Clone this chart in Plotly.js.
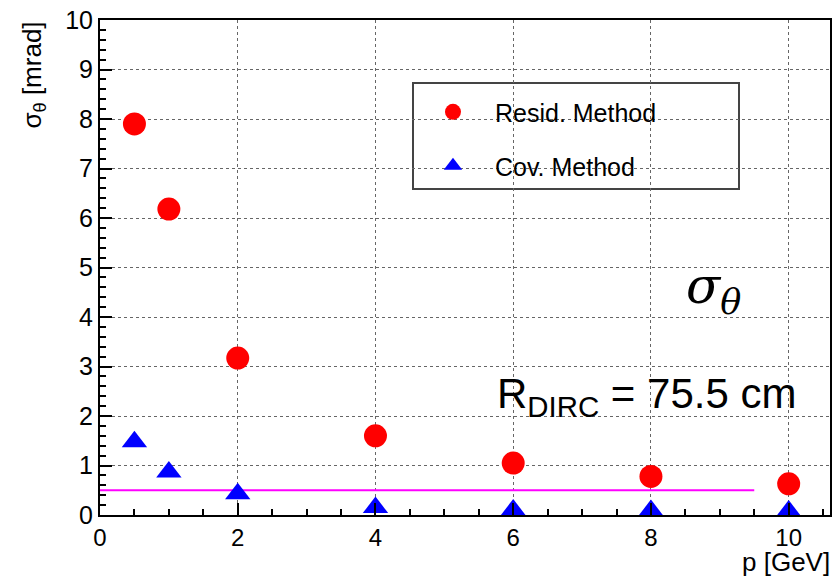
<!DOCTYPE html>
<html>
<head>
<meta charset="utf-8">
<script src="https://cdn.plot.ly/plotly-3.0.1.min.js"></script>
<style>html,body{margin:0;padding:0;background:#fff;}#chart{width:832px;height:576px;}</style>
</head>
<body>
<div id="chart"></div>
<script>
// Data
const momentum = [0.5, 1, 2, 4, 6, 8, 10];
const residMethod = [7.9, 6.18, 3.17, 1.6, 1.05, 0.78, 0.63];
const covMethod = [1.48, 0.87, 0.43, 0.15, 0.1, 0.09, 0.08];
const refLineX = [0, 9.5];
const refLineY = [0.5, 0.5];
const seriesNames = ['Resid. Method', 'Cov. Method'];

const FONT = 'Liberation Sans, Arial, Helvetica, sans-serif';

const traces = [
  {
    x: refLineX, y: refLineY, type: 'scatter', mode: 'lines',
    line: {color: '#ff00ff', width: 2}, showlegend: false, hoverinfo: 'skip'
  },
  {
    x: momentum, y: residMethod, type: 'scatter', mode: 'markers', name: seriesNames[0],
    marker: {symbol: 'circle', size: 23, color: '#ff0000'}, legend: 'legend'
  },
  {
    x: momentum, y: covMethod, type: 'scatter', mode: 'markers', name: seriesNames[1],
    marker: {symbol: 'triangle-up', size: 22, color: '#0000ff'}, legend: 'legend2'
  }
];

const axisCommon = {
  showline: true, mirror: true, linecolor: '#000', linewidth: 2,
  ticks: 'inside', ticklen: 12, tickwidth: 2, tickcolor: '#000',
  showgrid: true, gridcolor: '#666', griddash: 'dot', gridwidth: 1,
  zeroline: false, layer: 'above traces',
  tickfont: {family: FONT, size: 25, color: '#000'}
};

const layout = {
  width: 832, height: 576,
  margin: {l: 100, r: 2, t: 20, b: 61},
  paper_bgcolor: '#fff', plot_bgcolor: '#fff',
  font: {family: FONT, color: '#000'},
  xaxis: Object.assign({}, axisCommon, {
    range: [0, 10.6], tick0: 0, dtick: 2,
    tickfont: {family: FONT, size: 24, color: '#000'},
    minor: {dtick: 0.5, ticklen: 6, tickwidth: 2, ticks: 'inside', tickcolor: '#000', showgrid: false}
  }),
  yaxis: Object.assign({}, axisCommon, {
    range: [0, 10], tick0: 0, dtick: 1,
    minor: {dtick: 0.2, ticklen: 6, tickwidth: 2, ticks: 'inside', tickcolor: '#000', showgrid: false}
  }),
  showlegend: true,
  legend: {
    x: 0.426, y: 0.814, xanchor: 'left', yanchor: 'middle',
    bgcolor: 'rgba(0,0,0,0)', borderwidth: 0,
    font: {family: FONT, size: 25, color: '#000'}, itemwidth: 74
  },
  legend2: {
    x: 0.426, y: 0.705, xanchor: 'left', yanchor: 'middle',
    bgcolor: 'rgba(0,0,0,0)', borderwidth: 0,
    font: {family: FONT, size: 25, color: '#000'}, itemwidth: 74
  },
  shapes: [
    {type: 'rect', xref: 'paper', yref: 'paper',
     x0: (413 - 100) / 730, x1: (739 - 100) / 730,
     y0: (515 - 189) / 495, y1: (515 - 83) / 495,
     line: {color: '#444', width: 2}, fillcolor: 'rgba(255,255,255,1)', layer: 'below'}
  ],
  annotations: [
    {text: '<i>σ</i><sub><i>θ</i></sub>', xref: 'paper', yref: 'paper',
     x: (713 - 100) / 730, y: (515 - 289) / 495, xanchor: 'center', yanchor: 'middle',
     showarrow: false, font: {family: 'DejaVu Serif, serif', size: 50, color: '#000'}},
    {text: 'R<sub>DIRC</sub> = 75.5 cm', xref: 'paper', yref: 'paper',
     x: (798 - 100) / 730, y: (515 - 396) / 495, xanchor: 'right', yanchor: 'middle',
     showarrow: false, font: {family: FONT, size: 42, color: '#000'}},
    {text: 'σ<sub>θ</sub> [mrad]', xref: 'paper', yref: 'paper',
     x: (33 - 100) / 730, y: 1.0, xanchor: 'center', yanchor: 'top', textangle: -90,
     showarrow: false, font: {family: FONT, size: 26, color: '#000'}},
    {text: 'p [GeV]', xref: 'paper', yref: 'paper',
     x: 1.003, y: (515 - 562) / 495, xanchor: 'right', yanchor: 'middle',
     showarrow: false, font: {family: FONT, size: 26, color: '#000'}}
  ]
};

Plotly.newPlot('chart', traces, layout, {staticPlot: true, displayModeBar: false});
</script>
</body>
</html>
